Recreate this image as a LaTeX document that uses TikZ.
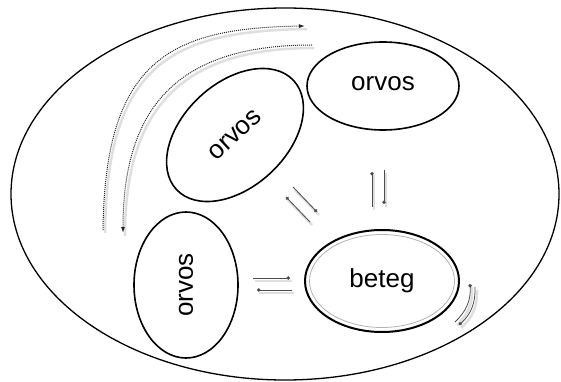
\documentclass[tikz,border=0pt]{standalone}
\usepackage{fontspec}
\setmainfont{Liberation Sans}
\usetikzlibrary{shapes.geometric,arrows.meta}
\begin{document}
\begin{tikzpicture}[x=1pt,y=-1pt]
	\tikzstyle{cell}=[draw,ellipse,line width=1.6pt,inner sep=0pt,font=\fontsize{26}{30}\selectfont]
	\tikzstyle{flow}=[densely dotted,line width=1pt,black!85,-{Latex[length=6pt,width=4pt]}]
	\tikzstyle{shade}=[gray!25,line width=2.5pt,transform canvas={xshift=2pt,yshift=-3pt}]
	\tikzstyle{swap}=[line width=0.8pt,gray!60!black,-{Circle[length=3.5pt]}]
	\useasboundingbox (0,0) rectangle (561,382);

	\draw[line width=1.3pt] (285,194) ellipse [x radius=274, y radius=186];

	\node[cell,text height=1.0em,minimum width=152pt,minimum height=88pt] (docA) at (383,86) {orvos};
	\node[cell,rotate=43,minimum width=160pt,minimum height=104pt] (docB) at (235,135) {orvos};
	\node[cell,rotate=90,minimum width=146pt,minimum height=104pt] (docC) at (186,285) {orvos};
	\node[cell,line width=2pt,minimum width=154pt,minimum height=102pt] (sick) at (382,281) {beteg};
	\draw[gray!60,line width=0.8pt] (sick.center) ellipse [x radius=72.5, y radius=46.5];

%	dotted flows
	\coordinate (outA) at (103,230); \coordinate (outB) at (305,26);
	\coordinate (inA) at (312,45); \coordinate (inB) at (123,233);
	\draw[shade] (outA) .. controls (105,60) and (170,28) .. (outB);
	\draw[shade] (inA) .. controls (185,45) and (123,100) .. (inB);
	\draw[flow] (outA) .. controls (105,60) and (170,28) .. (outB);
	\draw[flow] (inA) .. controls (185,45) and (123,100) .. (inB);

%	exchange pairs
	\coordinate (dgA) at (293,187); \coordinate (dgB) at (317,212);
	\coordinate (dgC) at (310,222); \coordinate (dgD) at (286,197);
	\coordinate (vtA) at (372,207); \coordinate (vtB) at (372,172);
	\coordinate (vtC) at (384,170); \coordinate (vtD) at (384,204);
	\coordinate (hzA) at (253,278); \coordinate (hzB) at (290,278);
	\coordinate (hzC) at (292,290); \coordinate (hzD) at (257,290);
	\coordinate (rtA) at (455,322); \coordinate (rtB) at (470,284);
	\coordinate (rtC) at (475,287); \coordinate (rtD) at (459,325);
	\foreach \p / \q in {dgA/dgB,dgC/dgD,vtA/vtB,vtC/vtD,hzA/hzB,hzC/hzD} {
		\draw[shade] (\p) -- (\q);
		\draw[swap] (\p) -- (\q);
	}
	\draw[shade] (rtA) to[bend right=25] (rtB);
	\draw[shade] (rtC) to[bend left=25] (rtD);
	\draw[swap] (rtA) to[bend right=25] (rtB);
	\draw[swap] (rtC) to[bend left=25] (rtD);
\end{tikzpicture}
\end{document}
